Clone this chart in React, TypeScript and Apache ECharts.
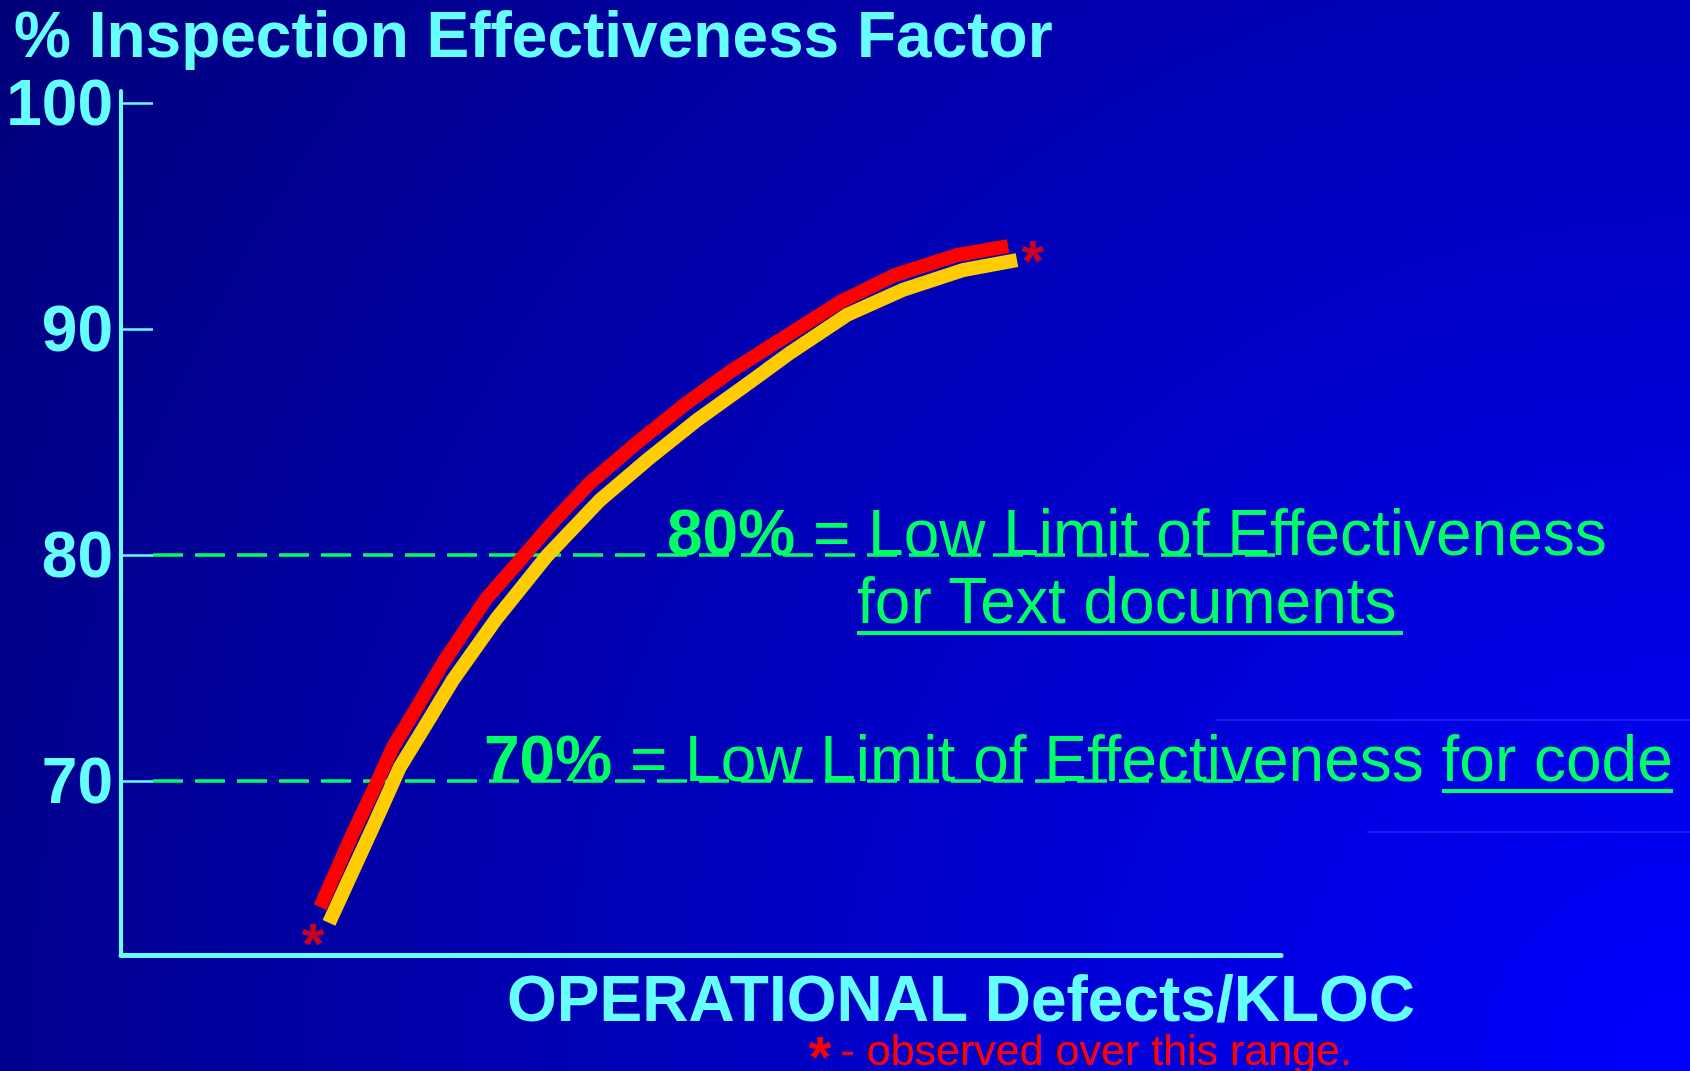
import React, { useEffect, useRef } from "react";
import * as echarts from "echarts";

const FONT = '"Liberation Sans", Arial, Helvetica, sans-serif';
const CYAN = "#66FFFF";
const GREEN = "#00FF66";
const RED = "#FF0000";
const YELLOW = "#FFCC00";

// y-axis tick values
const yTicks = [70, 80, 90, 100];

// red curve (x in arbitrary Defects/KLOC units, y in %)
const redX = [17.16, 18.59, 20.0, 21.64, 23.45, 25.52, 27.76, 29.83, 31.55, 34.57, 37.41, 40.43, 44.48, 48.79, 52.76, 56.81, 61.98, 66.72, 72.07, 76.47];
const redY = [64.42, 66.06, 67.7, 69.47, 71.5, 73.27, 75.22, 76.81, 78.1, 79.87, 81.55, 83.19, 84.96, 86.73, 88.19, 89.51, 91.19, 92.39, 93.27, 93.67];

// yellow curve
const yellowX = [17.93, 19.74, 21.72, 24.05, 26.38, 28.62, 32.41, 36.72, 41.29, 45.34, 49.66, 53.62, 57.67, 62.59, 67.41, 72.59, 77.24];
const yellowY = [63.72, 65.75, 67.96, 70.62, 72.57, 74.47, 77.21, 79.96, 82.43, 84.2, 85.97, 87.43, 88.94, 90.62, 91.73, 92.61, 93.05];

// threshold dashed lines
const thresholdLevels = [80, 70];
const thresholdStartX = [2.76, 2.76];
const thresholdEndX = [104.5, 103.4];

// "observed over this range" asterisks
const asteriskX = [78.6, 16.55];
const asteriskY = [93.58, 63.32];

const zip = (xs: number[], ys: number[]) => xs.map((x, i) => [x, ys[i]]);

export default function App() {
  const ref = useRef<HTMLDivElement>(null);

  useEffect(() => {
    if (!ref.current) return;
    const chart = echarts.init(ref.current, null, { renderer: "svg" });

    const thresholdSeries = thresholdLevels.map((lvl, i) => ({
      type: "line",
      data: [
        [thresholdStartX[i], lvl],
        [thresholdEndX[i], lvl],
      ],
      clip: false,
      symbol: "none",
      silent: true,
      z: 1,
      lineStyle: { color: GREEN, width: 3.5, type: [30, 12] },
    }));

    const option: any = {
      animation: false,
      backgroundColor: "transparent",
      grid: {
        left: 121,
        top: 91,
        right: 409,
        bottom: 116,
        containLabel: false,
        outerBoundsMode: "none",
      },
      xAxis: {
        type: "value",
        min: 0,
        max: 100,
        axisLine: { show: true, onZero: false, lineStyle: { color: CYAN, width: 5 } },
        axisTick: { show: false },
        axisLabel: { show: false },
        splitLine: { show: false },
      },
      yAxis: {
        type: "value",
        min: 62.3,
        max: 100.53,
        axisLine: { show: true, onZero: false, lineStyle: { color: CYAN, width: 4 } },
        axisTick: {
          show: true,
          inside: true,
          length: 32,
          customValues: yTicks,
          lineStyle: { color: CYAN, width: 2.5 },
        },
        axisLabel: {
          show: true,
          customValues: yTicks,
          color: CYAN,
          fontSize: 64,
          fontWeight: "bold",
          fontFamily: FONT,
          margin: 8,
          padding: [16, 0, 0, 0],
        },
        splitLine: { show: false },
      },
      series: [
        ...thresholdSeries,
        {
          type: "line",
          data: zip(redX, redY),
          symbol: "none",
          z: 3,
          lineStyle: { color: RED, width: 14, cap: "butt", join: "miter" },
        },
        {
          type: "line",
          data: zip(yellowX, yellowY),
          symbol: "none",
          z: 4,
          lineStyle: { color: YELLOW, width: 14, cap: "butt", join: "miter" },
        },
        {
          type: "scatter",
          data: zip(asteriskX, asteriskY),
          symbolSize: 1,
          itemStyle: { color: "rgba(0,0,0,0)" },
          z: 5,
          label: {
            show: true,
            position: "inside",
            formatter: "*",
            color: RED,
            fontSize: 58,
            fontWeight: "bold",
            fontFamily: FONT,
            offset: [0, 12],
          },
        },
      ],
      graphic: [
        {
          type: "line",
          shape: { x1: 1216, y1: 720, x2: 1690, y2: 720 },
          style: { stroke: "rgba(110,110,255,0.55)", lineWidth: 1 },
          silent: true,
        },
        {
          type: "line",
          shape: { x1: 1367, y1: 832, x2: 1690, y2: 832 },
          style: { stroke: "rgba(110,110,255,0.55)", lineWidth: 1 },
          silent: true,
        },
        {
          type: "text",
          x: 14,
          y: 35,
          style: {
            text: "% Inspection Effectiveness Factor",
            fill: CYAN,
            fontSize: 64,
            fontWeight: "bold",
            fontFamily: FONT,
            align: "left",
            verticalAlign: "middle",
          },
        },
        {
          type: "text",
          x: 667,
          y: 533,
          z: 10,
          style: {
            text: "{b|80%}{n| = Low Limit of Effectiveness}",
            fill: GREEN,
            fontSize: 64,
            fontFamily: FONT,
            align: "left",
            verticalAlign: "middle",
            rich: {
              b: { fill: GREEN, fontSize: 64, fontWeight: "bold", fontFamily: FONT },
              n: { fill: GREEN, fontSize: 64, fontWeight: "normal", fontFamily: FONT },
            },
          },
        },
        {
          type: "text",
          x: 857,
          y: 601,
          z: 10,
          style: {
            text: "for Text documents",
            fill: GREEN,
            fontSize: 64,
            fontFamily: FONT,
            align: "left",
            verticalAlign: "middle",
          },
        },
        {
          type: "rect",
          shape: { x: 857, y: 631, width: 546, height: 4 },
          style: { fill: GREEN },
          z: 10,
        },
        {
          type: "text",
          x: 484,
          y: 759,
          z: 10,
          style: {
            text: "{b|70%}{n| = Low Limit of Effectiveness for code}",
            fill: GREEN,
            fontSize: 64,
            fontFamily: FONT,
            align: "left",
            verticalAlign: "middle",
            rich: {
              b: { fill: GREEN, fontSize: 64, fontWeight: "bold", fontFamily: FONT },
              n: { fill: GREEN, fontSize: 64, fontWeight: "normal", fontFamily: FONT },
            },
          },
        },
        {
          type: "rect",
          shape: { x: 1442, y: 789, width: 231, height: 4 },
          style: { fill: GREEN },
          z: 10,
        },
        {
          type: "text",
          x: 507,
          y: 999,
          style: {
            text: "OPERATIONAL Defects/KLOC",
            fill: CYAN,
            fontSize: 64,
            fontWeight: "bold",
            fontFamily: FONT,
            align: "left",
            verticalAlign: "middle",
          },
        },
        {
          type: "text",
          x: 820,
          y: 1056,
          style: {
            text: "*",
            fill: RED,
            fontSize: 58,
            fontWeight: "bold",
            fontFamily: FONT,
            align: "center",
            verticalAlign: "middle",
          },
        },
        {
          type: "text",
          x: 840,
          y: 1050,
          style: {
            text: "- observed over this range.",
            fill: RED,
            fontSize: 43,
            fontFamily: FONT,
            align: "left",
            verticalAlign: "middle",
          },
        },
      ],
    };

    chart.setOption(option);
    return () => chart.dispose();
  }, []);

  return (
    <div
      ref={ref}
      style={{
        position: "absolute",
        left: 0,
        top: 0,
        width: 1690,
        height: 1071,
        overflow: "hidden",
        background:
          "radial-gradient(circle 2000px at 100% 100%, #0000FF 0%, #0000BC 50%, #00007A 100%)",
      }}
    />
  );
}
